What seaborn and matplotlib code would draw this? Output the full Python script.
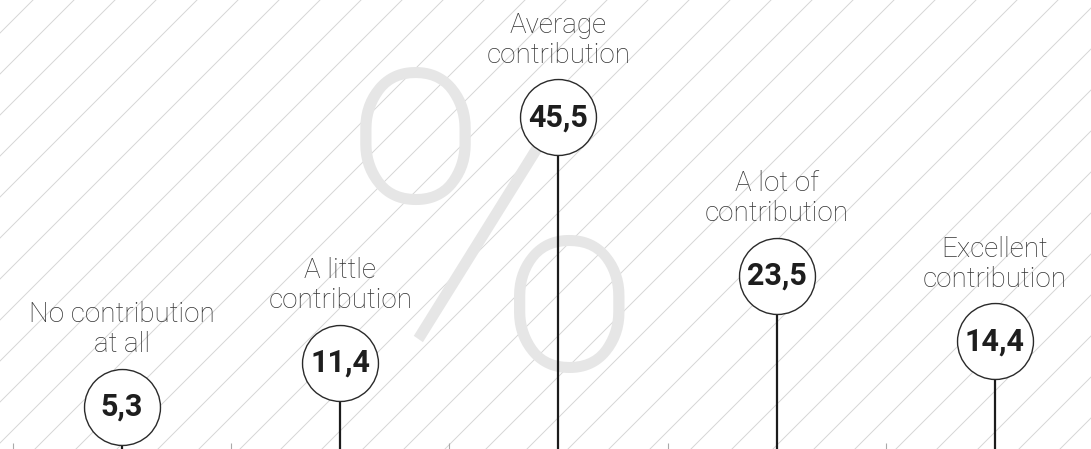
import numpy as np
import pandas as pd
import matplotlib
matplotlib.use("Agg")
import matplotlib.pyplot as plt
import seaborn as sns

# Survey answers and their shares (%)
categories = ["No contribution\nat all", "A little\ncontribution", "Average\ncontribution",
              "A lot of\ncontribution", "Excellent\ncontribution"]
values = [5.3, 11.4, 45.5, 23.5, 14.4]
value_labels = ["5,3", "11,4", "45,5", "23,5", "14,4"]

df = pd.DataFrame({"category": categories, "value": values, "label": value_labels})

sns.set_theme(style="white")
plt.rcParams["font.family"] = ["Roboto", "DejaVu Sans"]

W, H, DPI = 1091, 449, 100
fig = plt.figure(figsize=(W / DPI, H / DPI), dpi=DPI)
fig.patch.set_facecolor("white")

# Background layer in pixel units: diagonal hatching and a large "%" watermark
bg = fig.add_axes([0, 0, 1, 1], zorder=0)
bg.set_xlim(0, W)
bg.set_ylim(H, 0)
bg.axis("off")
for c in np.arange(33 - 41 * 30, W + H + 41, 41):
    bg.plot([c - H - 50, c + 50], [H + 50, -50], color="#d6d6d6", lw=0.7,
            solid_capstyle="butt")
bg.text(492, 255, "%", fontsize=300, fontweight="light", color="#e6e6e6",
        ha="center", va="center", family=["Roboto", "DejaVu Sans"])

# Main lollipop chart
ax = fig.add_axes([0, 0, 1, 1], zorder=1)
ax.patch.set_alpha(0)
n = len(df)
pos = np.arange(n)
ax.vlines(pos, -5, df["value"], color="#1c1c1c", lw=1.6, zorder=2)
sns.scatterplot(data=df, x="category", y="value", ax=ax, s=2990,
                color="white", edgecolor="#2a2a2a", linewidth=1.0, zorder=3,
                legend=False)

for i, row in df.iterrows():
    ax.annotate(row["label"], (i, row["value"]), ha="center", va="center",
                fontsize=22, fontweight="bold", color="#1e1e1e", zorder=4)
    ax.annotate(row["category"], (i, row["value"]), xytext=(0, 39),
                textcoords="offset points", ha="center", va="baseline",
                fontsize=20, fontweight="light", color="#333333",
                linespacing=1.15, zorder=4)

ax.set_xlim(-0.559, 4.44)
ax.set_ylim(-0.6, 61.8)
for s in ax.spines.values():
    s.set_visible(False)
ax.set_xlabel("")
ax.set_ylabel("")
ax.set_yticks([])
ax.set_xticks(pos - 0.5)
ax.set_xticklabels([])
ax.tick_params(axis="x", direction="in", length=4.5, width=0.8, color="#aaaaaa",
               bottom=True, pad=0)

fig.savefig("out.png", dpi=DPI, facecolor="white")
